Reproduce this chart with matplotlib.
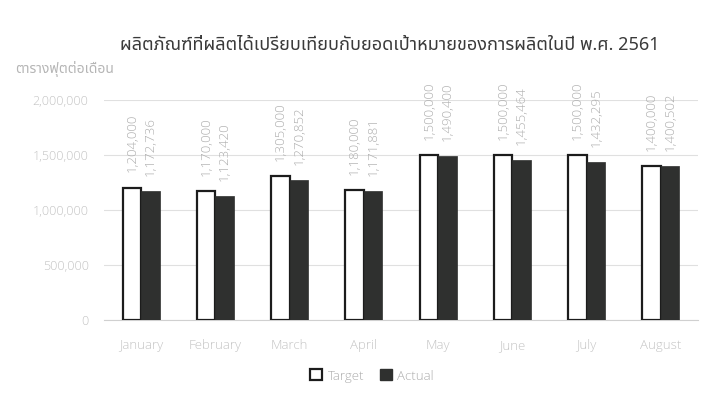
import matplotlib
matplotlib.use('Agg')
import matplotlib.pyplot as plt
import matplotlib.patches as mpatches
from matplotlib import font_manager, ft2font
from matplotlib.ticker import FuncFormatter
import numpy as np

months = ['January', 'February', 'March', 'April', 'May', 'June', 'July', 'August']
target = [1204000, 1170000, 1305000, 1180000, 1500000, 1500000, 1500000, 1400000]
actual = [1172736, 1123420, 1270852, 1171881, 1490400, 1455464, 1432295, 1400502]

title = 'ผลิตภัณฑ์ที่ผลิตได้เปรียบเทียบกับยอดเป้าหมายของการผลิตในปี พ.ศ. 2561'
unit_label = 'ตารางฟุตต่อเดือน'


def find_thai_font():
    # pick any installed font that actually has Thai glyphs
    found = []
    for f in font_manager.fontManager.ttflist:
        try:
            font = ft2font.FT2Font(f.fname)
            if font.get_char_index(0x0E01) and font.get_char_index(0x0E34):
                found.append(f.name)
        except Exception:
            continue
    for pref in ['Noto Sans Thai', 'Noto Sans Thai UI', 'Tahoma', 'Leelawadee UI',
                 'Sarabun', 'Loma', 'Garuda', 'Waree', 'Kinnari']:
        if pref in found:
            return pref
    return found[0] if found else None


thai = find_thai_font()
latin = ['Open Sans', 'DejaVu Sans']
thai_fam = ([thai] if thai else []) + latin

GREY = '#adadad'
DARK = '#2f302f'

fig = plt.figure(figsize=(7.17, 4.01), dpi=100)
ax = fig.add_axes([0.145, 0.202, 0.8285, 0.5486])

x = np.arange(len(months))
w = 0.25
b1 = ax.bar(x - w / 2, target, w, color='white', edgecolor='#1c1c1c', linewidth=1.6, zorder=3)
b2 = ax.bar(x + w / 2, actual, w, color=DARK, edgecolor=DARK, linewidth=0.5, zorder=3)

for bars, vals in [(b1, target), (b2, actual)]:
    for patch, v in zip(bars, vals):
        ax.annotate('{:,}'.format(v), (patch.get_x() + patch.get_width() / 2, v),
                    xytext=(0, 11), textcoords='offset points', rotation=90,
                    ha='center', va='bottom', fontsize=9.5, color=GREY,
                    family=latin, fontweight='light')

ax.set_xlim(-0.5, len(months) - 0.5)
ax.set_ylim(0, 2000000)
ax.set_yticks(np.arange(0, 2000001, 500000))
ax.yaxis.set_major_formatter(FuncFormatter(lambda v, p: '{:,}'.format(int(v))))
ax.set_xticks(x)
ax.set_xticklabels(months)
ax.tick_params(axis='both', length=0, colors='#c4c4c4', labelsize=9)
ax.tick_params(axis='y', pad=11)
ax.tick_params(axis='x', pad=14, labelsize=9.5)
for lab in ax.get_xticklabels() + ax.get_yticklabels():
    lab.set_family(latin)
    lab.set_fontweight('light')
ax.grid(axis='y', color='#e0e0e0', linewidth=0.8, zorder=0)
for s in ['top', 'right', 'left']:
    ax.spines[s].set_visible(False)
ax.spines['bottom'].set_color('#d0d0d0')

fig.text(390 / 717, 1 - 45 / 401, title, ha='center', va='center',
         fontsize=13, color='#3a3a3a', family=thai_fam)
fig.text(15 / 717, 1 - 69 / 401, unit_label, ha='left', va='center',
         fontsize=10, color='#b5b5b5', family=thai_fam)

handles = [mpatches.Patch(facecolor='white', edgecolor='#1c1c1c', linewidth=1.6, label='Target'),
           mpatches.Patch(facecolor=DARK, edgecolor=DARK, label='Actual')]
leg = fig.legend(handles=handles, loc='center', bbox_to_anchor=(372 / 717, 1 - 376 / 401),
                 ncol=2, frameon=False, handlelength=0.9, handleheight=0.9,
                 handletextpad=0.4, columnspacing=1.2,
                 prop={'family': latin, 'size': 9.5, 'weight': 'light'})
for t in leg.get_texts():
    t.set_color(GREY)

fig.savefig('out.png', dpi=100)
